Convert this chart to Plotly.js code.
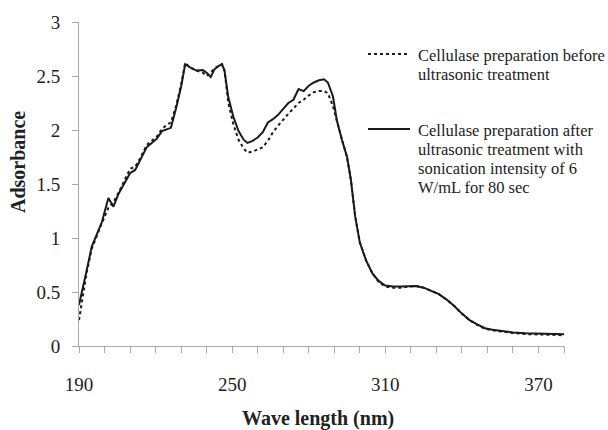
<!DOCTYPE html>
<html>
<head>
<meta charset="utf-8">
<script src="https://cdn.plot.ly/plotly-3.0.1.min.js"></script>
<style>html,body{margin:0;padding:0;background:#fff;}#chart{width:608px;height:430px;}</style>
</head>
<body>
<div id="chart"></div>
<script>
// Wavelength (nm)
const wavelength = [190,191,193,195,197,199,201.5,203.5,205.5,208,210,212,214,216.5,218.5,220.5,222.5,224.5,226,228,230,231.6,233.5,236,238.5,240,241.6,243,244.5,246,247,248.5,250.5,252.5,254.5,256,258,260,262,264,266,268,270,272,274,276,278,280,282,284,286,287.5,289.5,291,293,295,296.5,298.2,300,302.5,305,307.5,310,313,316,319,322,325,328,331,334,337,340,343,346,349,352,355,360,365,370,375,380];
// Absorbance after ultrasonic treatment (solid)
const after = [0.38,0.48,0.70,0.92,1.04,1.15,1.37,1.29,1.41,1.52,1.60,1.63,1.72,1.84,1.88,1.92,1.99,2.01,2.02,2.20,2.40,2.61,2.58,2.55,2.555,2.53,2.49,2.56,2.59,2.61,2.55,2.30,2.12,1.99,1.91,1.88,1.90,1.93,1.98,2.07,2.10,2.14,2.20,2.25,2.28,2.38,2.36,2.41,2.44,2.46,2.47,2.44,2.31,2.09,1.91,1.75,1.54,1.20,0.96,0.79,0.67,0.60,0.56,0.55,0.55,0.555,0.556,0.54,0.51,0.48,0.43,0.37,0.30,0.24,0.20,0.165,0.15,0.14,0.125,0.117,0.112,0.11,0.108];
// Absorbance before ultrasonic treatment (dotted)
const before = [0.24,0.40,0.68,0.90,1.03,1.14,1.28,1.33,1.42,1.54,1.64,1.66,1.74,1.86,1.90,1.94,2.01,2.05,2.07,2.22,2.42,2.62,2.58,2.55,2.53,2.50,2.53,2.57,2.59,2.61,2.55,2.25,2.05,1.91,1.83,1.79,1.80,1.82,1.84,1.90,1.98,2.04,2.10,2.15,2.20,2.25,2.28,2.32,2.35,2.36,2.36,2.34,2.22,2.08,1.91,1.75,1.54,1.20,0.96,0.79,0.67,0.59,0.55,0.54,0.54,0.55,0.556,0.54,0.51,0.48,0.43,0.37,0.30,0.24,0.195,0.16,0.145,0.135,0.12,0.11,0.105,0.10,0.10];

const xTickVals = [190,200,210,220,230,240,250,260,270,280,290,300,310,320,330,340,350,360,370,380];
const xTickText = ['190','','','','','','250','','','','','','310','','','','','','370',''];
const yTickVals = [0,0.5,1,1.5,2,2.5,3];
const yTickText = ['0','0.5','1','1.5','2','2.5','3'];

const legendBefore = ['Cellulase preparation before','ultrasonic treatment'];
const legendAfter = ['Cellulase preparation after','ultrasonic treatment with','sonication intensity of 6','W/mL for 80 sec'];

const serif = 'Liberation Serif, Times New Roman, serif';
// pixel helpers for layout placement
const L = 79, R = 564, T = 22, B = 346;
const px = x => (x - L) / (R - L);
const py = y => (B - y) / (B - T);

const traces = [
  {x: wavelength, y: before, mode: 'lines', line: {color: '#1a1a1a', width: 2, dash: 'dot'}, name: legendBefore.join(' ')},
  {x: wavelength, y: after, mode: 'lines', line: {color: '#1a1a1a', width: 2}, name: legendAfter.join(' ')}
];

const annotations = [];
legendBefore.forEach((t, i) => annotations.push({xref:'paper', yref:'paper', x: px(416), y: py(55 + i*19), text: t, showarrow:false, xanchor:'left', yanchor:'middle', font:{family:serif, size:16.5, color:'#222'}}));
legendAfter.forEach((t, i) => annotations.push({xref:'paper', yref:'paper', x: px(416), y: py(130 + i*19), text: t, showarrow:false, xanchor:'left', yanchor:'middle', font:{family:serif, size:16.5, color:'#222'}}));
annotations.push({xref:'paper', yref:'paper', x: px(318), y: py(419), text: '<b>Wave length (nm)</b>', showarrow:false, xanchor:'center', yanchor:'middle', font:{family:serif, size:20, color:'#222'}});
annotations.push({xref:'paper', yref:'paper', x: px(18), y: py(162), text: '<b>Adsorbance</b>', textangle: -90, showarrow:false, xanchor:'center', yanchor:'middle', font:{family:serif, size:20, color:'#222'}});

const layout = {
  width: 608, height: 430,
  margin: {l: L, r: 608 - R, t: T, b: 430 - B},
  paper_bgcolor: '#fff', plot_bgcolor: '#fff',
  showlegend: false,
  xaxis: {range: [190, 380], tickmode: 'array', tickvals: xTickVals, ticktext: xTickText,
    showgrid: false, zeroline: false, showline: true, linecolor: '#aaaaaa', linewidth: 1,
    ticks: 'outside', ticklen: 6, tickcolor: '#aaaaaa', ticklabelstandoff: 15,
    tickfont: {family: serif, size: 19, color: '#222'}},
  yaxis: {range: [0, 3], tickmode: 'array', tickvals: yTickVals, ticktext: yTickText,
    showgrid: false, zeroline: false, showline: true, linecolor: '#aaaaaa', linewidth: 1,
    ticks: 'outside', ticklen: 6, tickcolor: '#aaaaaa', ticklabelstandoff: 8,
    tickfont: {family: serif, size: 19, color: '#222'}},
  shapes: [
    {type:'line', xref:'paper', yref:'paper', x0: px(368), x1: px(408), y0: py(54), y1: py(54), line:{color:'#1a1a1a', width:2, dash:'dot'}},
    {type:'line', xref:'paper', yref:'paper', x0: px(368), x1: px(410), y0: py(129), y1: py(129), line:{color:'#1a1a1a', width:2}}
  ],
  annotations: annotations
};

Plotly.newPlot('chart', traces, layout, {displayModeBar: false, staticPlot: true});
</script>
</body>
</html>
